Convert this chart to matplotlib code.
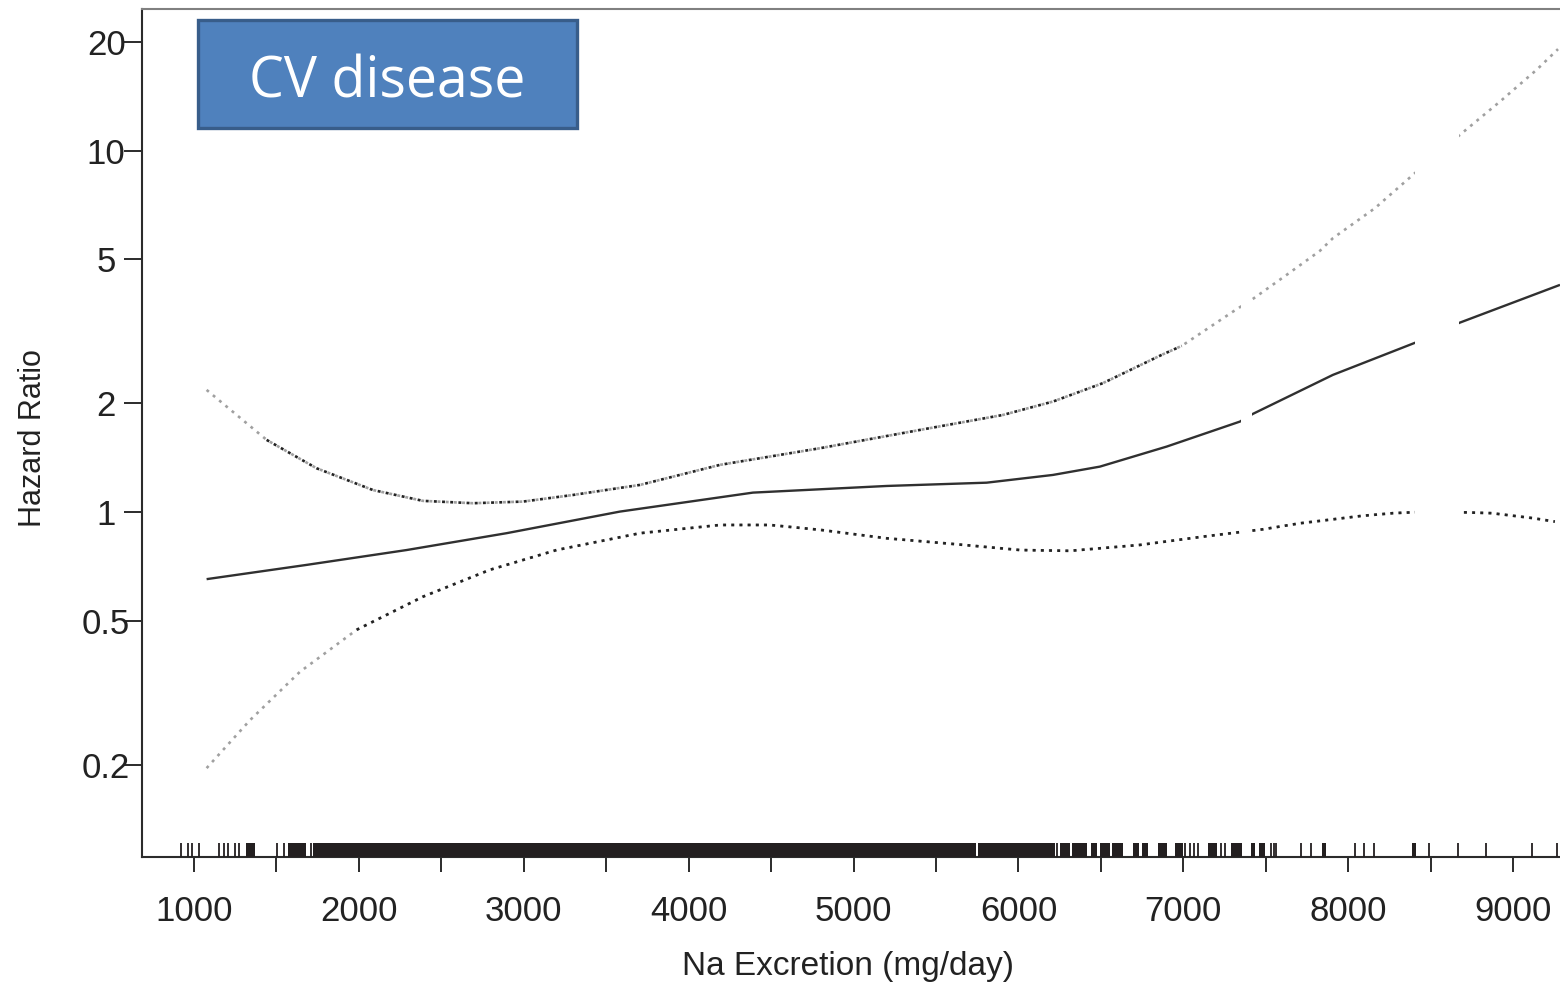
import numpy as np
import matplotlib
matplotlib.use("Agg")
import matplotlib.pyplot as plt
from matplotlib.patches import Rectangle

# spline estimate of hazard ratio vs sodium excretion
na_mid = [1077, 1683, 2290, 2896, 3583, 4390, 5201, 5807, 6209, 6494, 6899,
          7343, 7422, 7907, 8423, 8677, 9284]
hr_mid = [0.653, 0.715, 0.786, 0.875, 1.004, 1.133, 1.182, 1.207, 1.268, 1.337,
          1.519, 1.781, 1.871, 2.398, 2.964, 3.345, 4.254]

# upper confidence limit
na_hi = [1077, 1441, 1744, 2085, 2389, 2692, 2995, 3298, 3705, 4190, 4796,
         5403, 5906, 6209, 6512, 6868, 6990, 7301, 7422, 7626, 7828, 7907,
         8162, 8392, 8677, 8920, 9142, 9272]
hr_hi = [2.179, 1.585, 1.323, 1.152, 1.075, 1.059, 1.070, 1.116, 1.190, 1.352,
         1.503, 1.689, 1.858, 2.023, 2.275, 2.723, 2.884, 3.588, 3.891, 4.533,
         5.283, 5.728, 6.934, 8.571, 11.06, 13.67, 16.73, 19.09]

# lower confidence limit
na_lo = [1077, 1340, 1643, 1987, 2389, 2795, 3199, 3705, 4190, 4493, 4796,
         5201, 5603, 6009, 6312, 6737, 7119, 7483, 7707, 8081, 8271, 8404,
         8677, 8870, 9120, 9253]
hr_lo = [0.196, 0.266, 0.362, 0.473, 0.584, 0.693, 0.786, 0.875, 0.922, 0.922,
         0.894, 0.847, 0.817, 0.786, 0.782, 0.812, 0.856, 0.897, 0.932, 0.977,
         0.994, 1.0, 1.0, 0.994, 0.963, 0.942]

# rug of observations: single ticks and runs of ticks that merge into blocks
rug_single = [923, 964, 991, 1030, 1153, 1180, 1207, 1248, 1275, 1505, 1545,
              1707, 6231, 7012, 7042, 7065, 7088, 7227, 7251, 7529, 7552, 7563,
              7714, 7772, 8038, 8097, 8154, 8491, 8664, 8838, 9116, 9268]
rug_blocks = [(1315, 1369), (1572, 1680), (1721, 5745), (5757, 6219),
              (6254, 6312), (6323, 6416), (6439, 6474), (6492, 6555),
              (6566, 6637), (6693, 6729), (6748, 6787), (6845, 6903),
              (6949, 6996), (7147, 7204), (7290, 7355), (7413, 7436),
              (7459, 7494), (7842, 7865), (8386, 8409)]

# white breaks that cut through the curves in the source image
breaks = [(7347, 7418), (8402, 8672)]

y_ticks = [0.2, 0.5, 1, 2, 5, 10, 20]
y_ticklabels = ["0.2", "0.5", "1", "2", "5", "10", "20"]
x_ticks = list(range(1000, 9001, 500))
x_ticklabels = [str(v) if v % 1000 == 0 else "" for v in x_ticks]

W, H = 1560, 983
fig = plt.figure(figsize=(W / 100, H / 100), dpi=100)
plt.rcParams['font.family'] = ['Liberation Sans', 'DejaVu Sans']

ax_l, ax_b, ax_t = 142.3, 856.7, 9.3
ax = fig.add_axes([ax_l / W, 1 - ax_b / H, 1 - ax_l / W, (ax_b - ax_t) / H])

ax.set_yscale('log')
ax.set_xlim(687, 9284)
ax.set_ylim(0.1115, 24.6)

ink = '#2b2b2b'
ax.plot(na_mid, hr_mid, color='#303030', lw=1.7, solid_capstyle='butt', zorder=3)


def ci_line(xs, ys, dark_from, dark_to):
    xs = np.array(xs)
    ys = np.array(ys)
    ls = (0, (1.1, 2.0))
    ax.plot(xs, ys, color='#a0a0a0', lw=1.9, linestyle=ls, zorder=3)
    m = (xs >= dark_from) & (xs <= dark_to)
    ax.plot(xs[m], ys[m], color='#222222', lw=1.9, linestyle=ls, zorder=3)


ci_line(na_hi, hr_hi, 1441, 6990)
ci_line(na_lo, hr_lo, 1987, 9300)

for a, b in breaks:
    ax.axvspan(a, b, ymin=0.03, ymax=0.995, color='white', lw=0, zorder=4)

# rug
rug_h = 14 / (ax_b - ax_t)
ax.vlines(rug_single, 0, rug_h, transform=ax.get_xaxis_transform(),
          color='#231f20', lw=1.3, zorder=5)
for a, b in rug_blocks:
    ax.axvspan(a, b, ymin=0, ymax=rug_h, color='#231f20', lw=0, zorder=5)

ax.set_xticks(x_ticks)
ax.set_xticklabels(x_ticklabels)
ax.set_yticks(y_ticks)
ax.set_yticklabels(y_ticklabels)
ax.yaxis.set_minor_locator(matplotlib.ticker.NullLocator())
ax.tick_params(axis='x', length=10.8, width=1.4, color=ink, pad=16.5,
               labelsize=25, labelcolor='#222222')
ax.tick_params(axis='y', length=13, width=1.4, color=ink, pad=13,
               labelsize=25, labelcolor='#222222')
for lab in ax.get_yticklabels():
    lab.set_horizontalalignment('center')

ax.spines['right'].set_visible(False)
ax.spines['left'].set_linewidth(1.5)
ax.spines['left'].set_color(ink)
ax.spines['bottom'].set_linewidth(1.5)
ax.spines['bottom'].set_color(ink)
ax.spines['top'].set_linewidth(1.5)
ax.spines['top'].set_color('#808080')

fig.text(848.5 / W, 1 - 975 / H, "Na Excretion (mg/day)", ha='center',
         va='baseline', fontsize=24, color='#222222')
fig.text(41.5 / W, 1 - 438 / H, "Hazard Ratio", rotation=90,
         rotation_mode='anchor', ha='center', va='baseline', fontsize=22,
         color='#222222')

# title box
box = Rectangle((198 / W, 1 - 128 / H), 379 / W, 108 / H,
                transform=fig.transFigure, facecolor='#4f81bd',
                edgecolor='#385d8a', lw=2.4, zorder=10)
fig.add_artist(box)
fig.text(387 / W, 1 - 97 / H, "CV disease", ha='center', va='baseline',
         fontsize=40, color='white', family=['Open Sans', 'DejaVu Sans'],
         zorder=11)

fig.savefig("out.png", dpi=100)
